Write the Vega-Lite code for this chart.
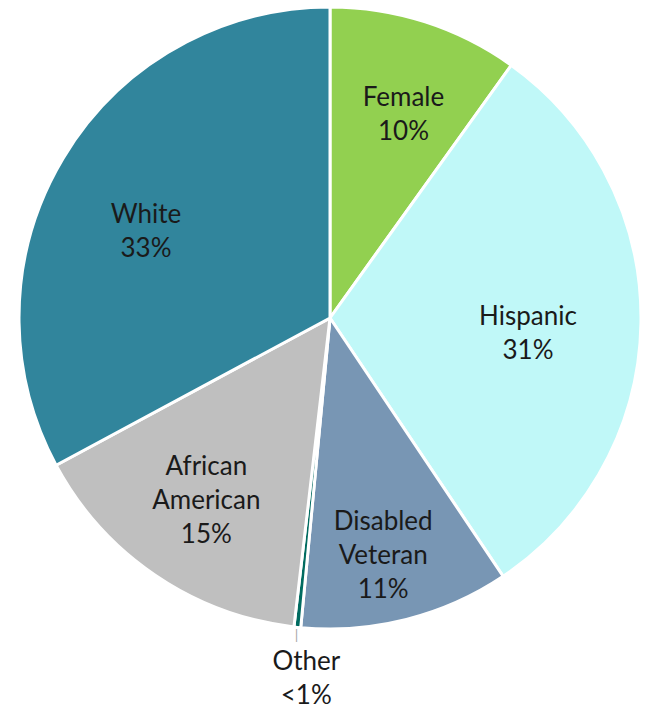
{
  "$schema": "https://vega.github.io/schema/vega-lite/v6.json",
  "width": 630,
  "height": 636,
  "autosize": {"type": "none"},
  "padding": {"left": 15, "top": 0, "right": 0, "bottom": 75},
  "background": "white",
  "view": {"stroke": null},
  "config": {"text": {"font": "Lato", "fontSize": 26, "color": "#1a1a1a", "lineBreak": "\n", "lineHeight": 34, "baseline": "middle", "align": "center"}},
  "data": {"values": [
    {"category": "Female", "value": 9.9, "ord": 1, "label": "Female\n10%"},
    {"category": "Hispanic", "value": 30.7, "ord": 2, "label": "Hispanic\n31%"},
    {"category": "Disabled Veteran", "value": 10.9, "ord": 3, "label": "Disabled\nVeteran\n11%"},
    {"category": "Other", "value": 0.35, "ord": 4, "label": "Other\n<1%"},
    {"category": "African American", "value": 15.3, "ord": 5, "label": "African\nAmerican\n15%"},
    {"category": "White", "value": 32.85, "ord": 6, "label": "White\n33%"}
  ]},
  "encoding": {
    "theta": {"field": "value", "type": "quantitative", "stack": true},
    "order": {"field": "ord", "type": "quantitative"}
  },
  "layer": [
    {
      "mark": {"type": "arc", "outerRadius": 311, "stroke": "white", "strokeWidth": 3},
      "encoding": {
        "color": {"field": "category", "type": "nominal", "legend": null,
          "scale": {"domain": ["Female", "Hispanic", "Disabled Veteran", "Other", "African American", "White"],
                    "range": ["#92d050", "#c0f8f8", "#7896b4", "#006b60", "#bfbfbf", "#31859c"]}}
      }
    },
    {
      "mark": {"type": "text", "radius": 214, "dx": 8, "dy": -16},
      "encoding": {"text": {"condition": {"test": "datum.category === 'Female'", "field": "label"}, "value": ""}}
    },
    {
      "mark": {"type": "text", "radius": 198, "dy": -4},
      "encoding": {"text": {"condition": {"test": "datum.category === 'Hispanic'", "field": "label"}, "value": ""}}
    },
    {
      "mark": {"type": "text", "radius": 245, "dx": -7, "dy": -33},
      "encoding": {"text": {"condition": {"test": "datum.category === 'Disabled Veteran'", "field": "label"}, "value": ""}}
    },
    {
      "mark": {"type": "text", "radius": 220, "dy": -33},
      "encoding": {"text": {"condition": {"test": "datum.category === 'African American'", "field": "label"}, "value": ""}}
    },
    {
      "mark": {"type": "text", "radius": 205, "dx": -8, "dy": 2},
      "encoding": {"text": {"condition": {"test": "datum.category === 'White'", "field": "label"}, "value": ""}}
    },
    {
      "mark": {"type": "text", "radius": 359, "dx": 14, "dy": -13},
      "encoding": {"text": {"condition": {"test": "datum.category === 'Other'", "field": "label"}, "value": ""}}
    },
    {
      "mark": {"type": "text", "radius": 320, "fontSize": 14, "color": "#a6a6a6", "lineHeight": 14},
      "encoding": {"text": {"condition": {"test": "datum.category === 'Other'", "value": "|"}, "value": ""}}
    }
  ]
}
